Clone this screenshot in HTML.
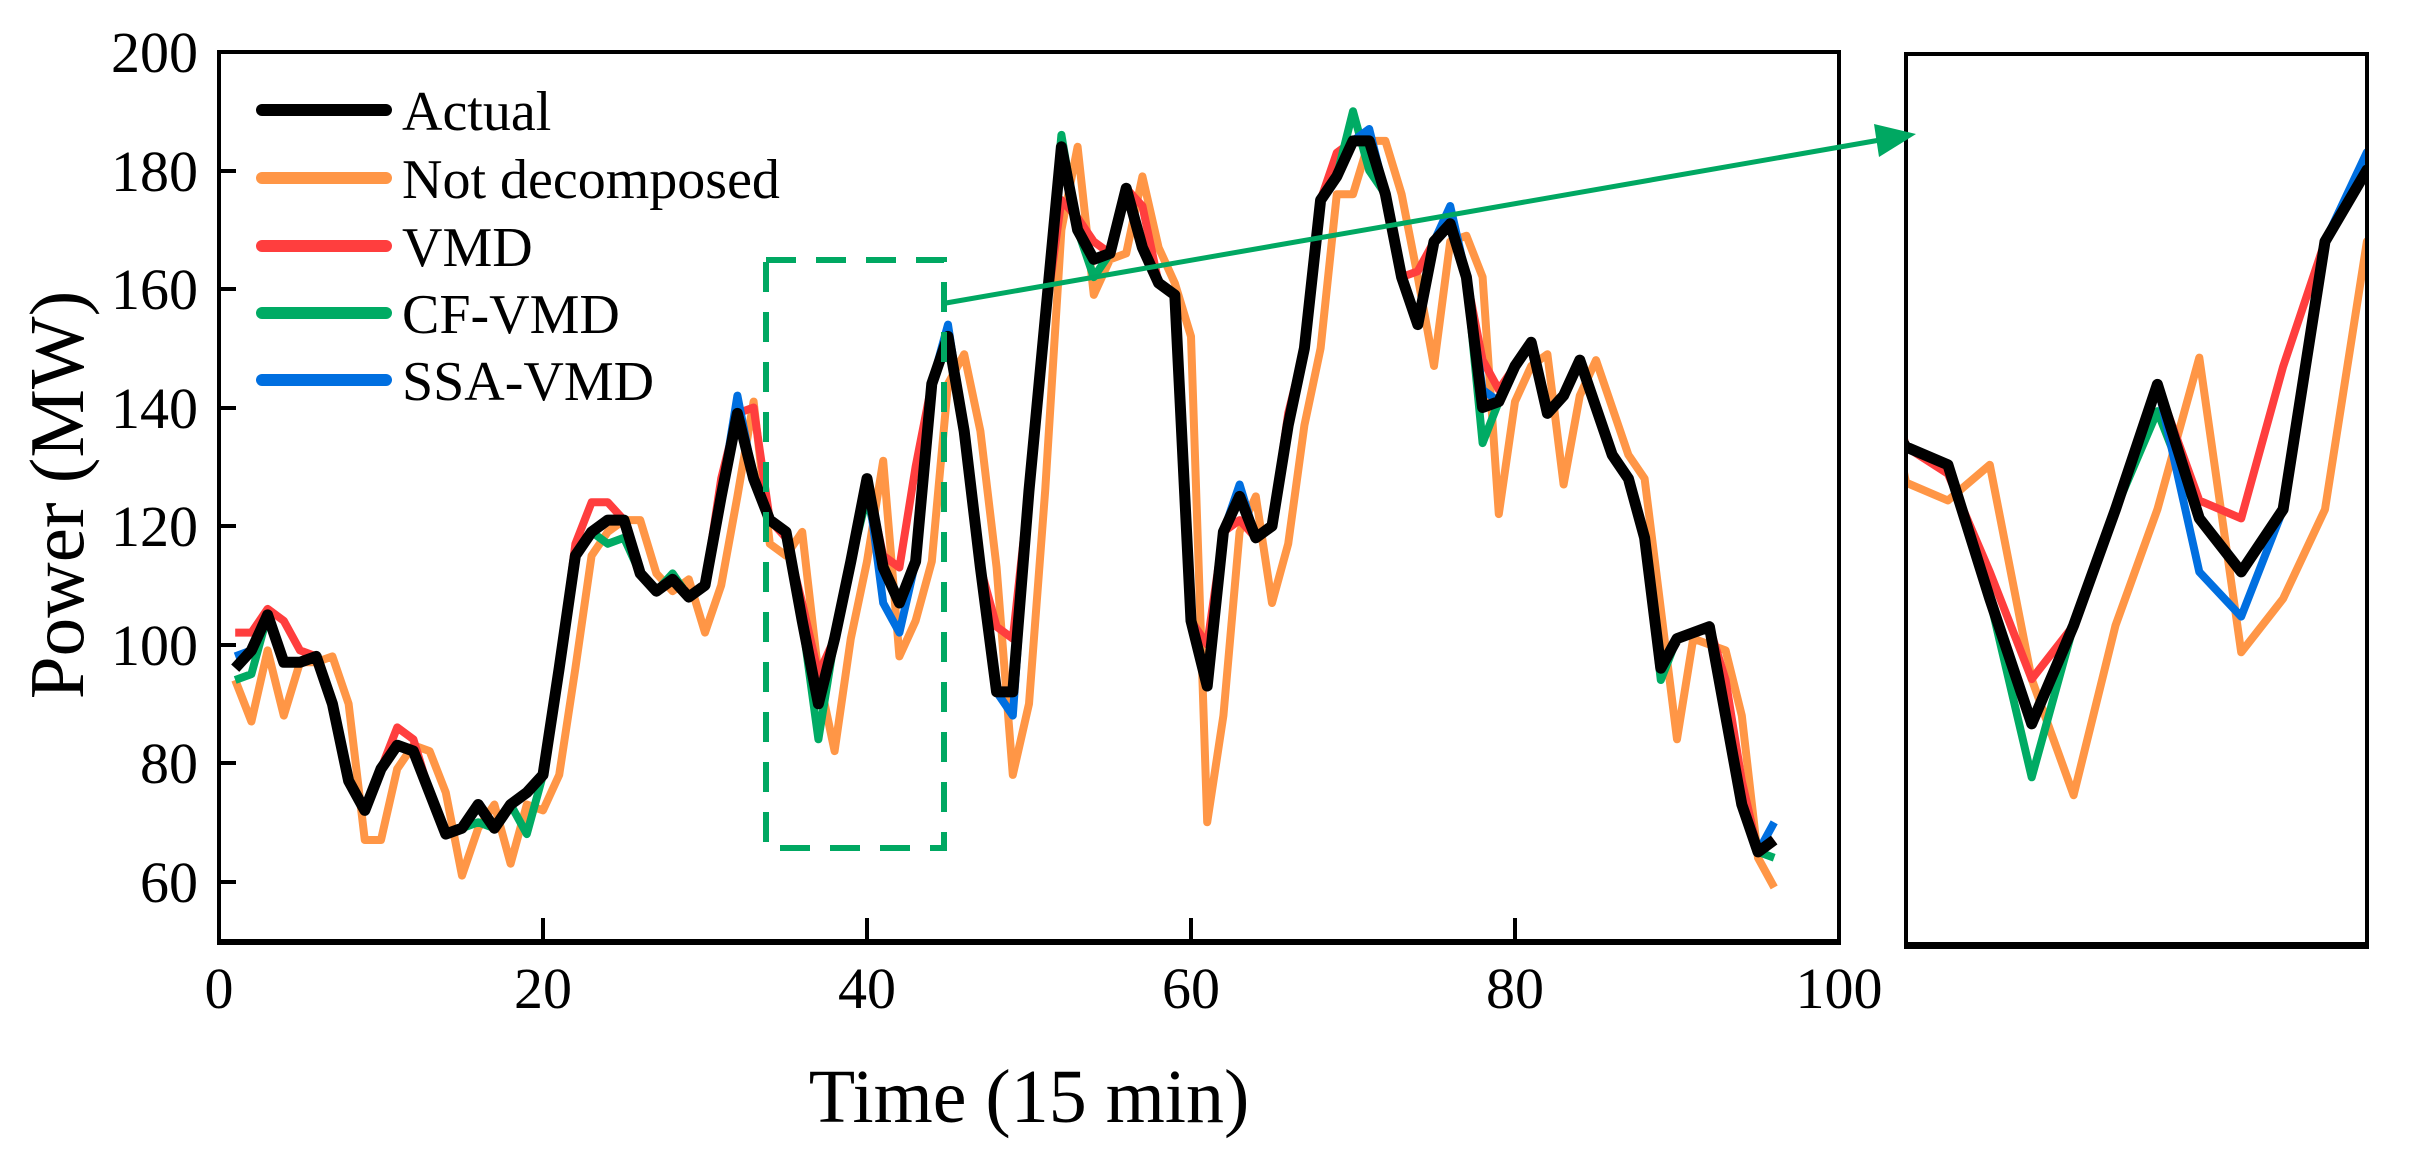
<!DOCTYPE html>
<html><head><meta charset="utf-8"><style>
html,body{margin:0;padding:0;background:#fff;}
svg{display:block;font-family:"Liberation Serif",serif;}
</style></head><body>
<svg id="s" width="2414" height="1161" xmlns="http://www.w3.org/2000/svg">
<defs>
<clipPath id="cm"><rect x="219" y="52" width="1620" height="890"/></clipPath>
<clipPath id="ci"><rect x="1906" y="54" width="461" height="893"/></clipPath>
</defs>
<g id="main" clip-path="url(#cm)"></g>
<g id="ins" clip-path="url(#ci)"></g>
<rect x="219" y="52" width="1620" height="890" fill="none" stroke="#000" stroke-width="4"/>
<line x1="217" y1="942" x2="1841" y2="942" stroke="#000" stroke-width="6"/>
<g stroke="#000" stroke-width="4">
<line x1="219" y1="171" x2="236" y2="171"/><line x1="219" y1="289" x2="236" y2="289"/>
<line x1="219" y1="408" x2="236" y2="408"/><line x1="219" y1="526" x2="236" y2="526"/>
<line x1="219" y1="645" x2="236" y2="645"/><line x1="219" y1="763" x2="236" y2="763"/>
<line x1="219" y1="882" x2="236" y2="882"/>
<line x1="543" y1="942" x2="543" y2="918"/><line x1="867" y1="942" x2="867" y2="918"/>
<line x1="1191" y1="942" x2="1191" y2="918"/><line x1="1515" y1="942" x2="1515" y2="918"/>
</g>
<g font-size="58" text-anchor="end" fill="#000">
<text x="198" y="72">200</text><text x="198" y="191">180</text><text x="198" y="309">160</text>
<text x="198" y="428">140</text><text x="198" y="546">120</text><text x="198" y="665">100</text>
<text x="198" y="783">80</text><text x="198" y="902">60</text>
</g>
<g font-size="58" text-anchor="middle" fill="#000">
<text x="219" y="1008">0</text><text x="543" y="1008">20</text><text x="867" y="1008">40</text>
<text x="1191" y="1008">60</text><text x="1515" y="1008">80</text><text x="1839" y="1008">100</text>
</g>
<text x="1029" y="1122" font-size="76" text-anchor="middle">Time (15 min)</text>
<text transform="translate(83,495) rotate(-90)" font-size="77" text-anchor="middle">Power (MW)</text>
<rect x="1906" y="54" width="461" height="893" fill="none" stroke="#000" stroke-width="4"/>
<line x1="1904" y1="945" x2="2369" y2="945" stroke="#000" stroke-width="6"/>
<rect x="766" y="260" width="178" height="588" fill="none" stroke="#00a862" stroke-width="6" stroke-dasharray="30,20"/>
<line x1="946" y1="303" x2="1880" y2="140" stroke="#00a862" stroke-width="5"/>
<polygon points="1916,134 1874,124 1879,157" fill="#00a862"/>
<g stroke-width="12" stroke-linecap="round">
<line x1="262" y1="110" x2="386" y2="110" stroke="#000"/>
<line x1="262" y1="178" x2="386" y2="178" stroke="#ff9646"/>
<line x1="262" y1="246" x2="386" y2="246" stroke="#ff3e3e"/>
<line x1="262" y1="313" x2="386" y2="313" stroke="#00ab64"/>
<line x1="262" y1="380" x2="386" y2="380" stroke="#006fe0"/>
</g>
<g font-size="56" fill="#000">
<text x="402" y="130">Actual</text><text x="402" y="198">Not decomposed</text>
<text x="402" y="266">VMD</text><text x="402" y="333">CF-VMD</text><text x="402" y="400">SSA-VMD</text>
</g>
</svg>
<script>
var A=[96,99,105,97,97,98,90,77,72,79,83,82,75,68,69,73,69,73,75,78,96,115,119,121,121,112,109,111,108,110,125,139,128,121,119,104,90,101,114,128,113,107,114,144,152,136,113,92,92,126,155,184,170,165,166,177,167,161,159,104,93,119,125,118,120,137,150,175,179,185,185,176,162,154,168,171,162,140,141,147,151,139,142,148,140,132,128,118,96,101,102,103,88,73,65,67];
function mk(base,o){var r=base.slice();for(var k in o)r[k-1]=o[k];return r;}
var O=[94];for(var i=1;i<96;i++)O.push(A[i-1]);
O=mk(O,{2:87,4:88,9:67,10:67,15:61,18:63,20:72,21:78,30:102,33:141,34:117,35:115,37:95,38:82,41:131,42:98,43:104,46:149,49:78,50:90,52:170,53:184,54:159,57:179,60:152,61:70,62:88,65:107,66:117,68:150,69:176,70:176,75:147,77:169,79:122,82:149,83:127,89:106,90:84,92:100,93:99,95:64,96:59});
var R=mk(A,{1:102,2:102,3:106,4:104,5:99,11:86,12:84,22:117,23:124,24:124,31:128,33:140,35:118,36:107,37:95,41:115,42:113,43:130,48:103,49:101,52:175,53:172,54:168,57:174,61:100,63:121,66:139,69:183,74:163,78:148,79:143,93:94,94:77});
var G=mk(A,{1:94,2:95,16:70,19:68,24:117,25:118,28:112,37:84,40:125,52:186,54:162,70:190,71:180,78:134,89:94,96:64});
var B=mk(A,{1:98,32:142,41:107,42:102,45:154,49:88,63:127,71:187,76:174,78:143,96:70});
function pts(arr,X,Y){return arr.map(function(v,i){return X(i+1).toFixed(1)+','+Y(v).toFixed(1);}).join(' ');}
var NS='http://www.w3.org/2000/svg';
function draw(g,X,Y){
 [[O,'#ff9646',8],[R,'#ff3e3e',8],[G,'#00ab64',8],[B,'#006fe0',8],[A,'#000',11]].forEach(function(s){
  var p=document.createElementNS(NS,'polyline');p.setAttribute('points',pts(s[0],X,Y));
  p.setAttribute('fill','none');p.setAttribute('stroke',s[1]);p.setAttribute('stroke-width',s[2]);
  p.setAttribute('stroke-linejoin','round');g.appendChild(p);});
}
draw(document.getElementById('main'),function(t){return 219+t*16.2;},function(v){return 52+(200-v)*5.925;});
draw(document.getElementById('ins'),function(t){return 1906+(t-34)*41.9;},function(v){return 54+(165-v)*8.93;});
</script>
</body></html>
